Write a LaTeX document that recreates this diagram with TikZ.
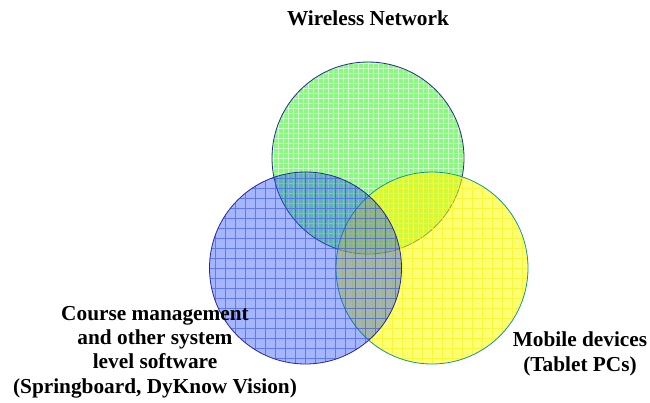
\documentclass[tikz,border=0pt]{standalone}
\usepackage{fontspec}
\setmainfont{Liberation Serif}
\begin{document}
\begin{tikzpicture}[x=1pt,y=-1pt,
  venn/.style={circle, minimum size=192pt, inner sep=0pt, line width=0.8pt},
  lbl/.style={font=\fontsize{21.3}{24.3}\selectfont\bfseries, align=center, inner sep=0pt},
  gridlines/.style={line width=0.6pt}]
\useasboundingbox (0,0) rectangle (650,402);
\definecolor{gfill}{RGB}{20,245,0}
\definecolor{gline}{RGB}{255,255,255}
\definecolor{bfill}{RGB}{40,80,250}
\definecolor{bline}{RGB}{40,70,235}
\definecolor{yfill}{RGB}{255,255,0}
\definecolor{yline}{RGB}{245,245,40}
\definecolor{navy}{RGB}{40,40,150}
\definecolor{teal2}{RGB}{20,150,150}
\node[venn, draw=navy, fill=gfill, fill opacity=0.5, draw opacity=1,
  path picture={\draw[gline, opacity=0.6, gridlines, step=5pt] (path picture bounding box.south west) grid (path picture bounding box.north east);}]
  (wn) at (368,158) {};
\node[venn, draw=teal2, fill=yfill, fill opacity=0.55, draw opacity=1,
  path picture={\draw[yline, opacity=0.7, gridlines, step=10pt] (path picture bounding box.south west) grid (path picture bounding box.north east);}]
  (md) at (432,268) {};
\node[venn, draw=navy, fill=bfill, fill opacity=0.42, draw opacity=1,
  path picture={\draw[bline, opacity=0.55, gridlines, step=10pt] (path picture bounding box.south west) grid (path picture bounding box.north east);}]
  (cm) at (305.5,268) {};
\node[lbl] (wnl) at (368,18) {Wireless Network};
\node[lbl] (cml) at (155,352) {Course management\\and other system\\level software\\(Springboard, DyKnow Vision)};
\node[lbl] (mdl) at (580,354) {Mobile devices\\(Tablet PCs)};
\end{tikzpicture}
\end{document}
